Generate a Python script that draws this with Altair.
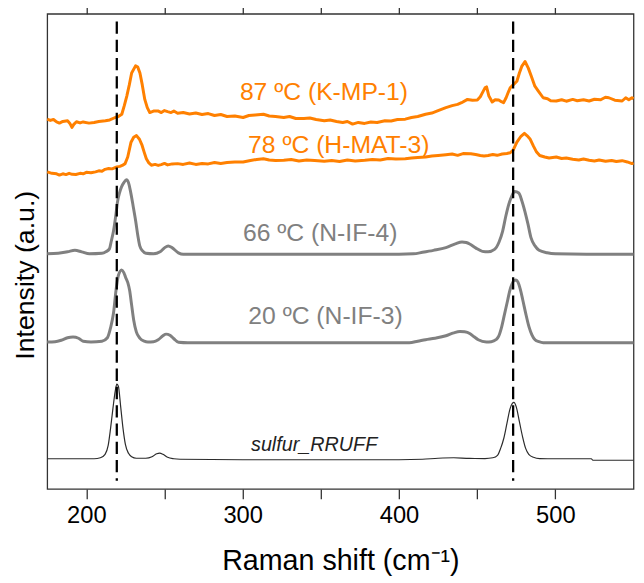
import altair as alt
import pandas as pd

# ---------------- data ----------------
# sulfur reference spectrum (RRUFF)
shift_s = [175, 190, 205, 209, 212, 214, 215.5, 217, 218.5, 219.5, 220.5, 222, 223.5, 225, 227,
           229, 232, 238, 242, 245, 247, 249, 252, 256, 260, 300, 350, 400, 415, 425, 435, 445,
           455, 460, 463, 465, 467, 469, 471, 472.5, 473.5, 475, 477, 479, 481, 483, 486, 490,
           500, 523, 524, 550]
int_s = [30.5, 30.5, 30.5, 31.5, 35, 44, 61, 81, 99, 106, 104, 83, 61, 45, 36,
         32.5, 31, 31, 32.5, 35.5, 36.2, 35, 32, 30.5, 30, 29.5, 29.5, 29.5, 30, 31, 31.5, 30.8,
         30.7, 31.5, 34, 41, 51, 66, 81, 86.5, 87.5, 83, 68, 53, 41, 35, 32, 30.7,
         30.5, 30.5, 29, 29]

# 20 ºC (N-IF-3)
shift_20 = [175, 180, 184, 188, 191.5, 195, 198, 203, 210, 213.5, 215.5, 217.4, 219, 220.5, 222.6,
            224, 225.1, 226.5, 227.7, 229, 230.3, 232, 234.2, 237, 239.4, 243, 246, 249, 251, 253.5,
            256, 259, 265, 300, 350, 400, 406.6, 412, 417, 423, 430, 435, 439, 442, 445.5,
            448, 450.7, 455.9, 459, 462, 463.7, 465.5, 467.6, 469.5, 470.9, 472.2, 473.5, 474.8,
            476.1, 477.6, 479.2, 481, 483.1, 485, 487, 489.5, 492.2, 510, 530, 550]
int_20 = [148.7, 149, 150.5, 153, 153.7, 152.5, 149.5, 148.7, 149.5, 153, 163, 178, 201, 216, 221.7,
          219, 214.3, 209, 201, 186, 171, 159, 152.7, 149.5, 148.7, 149, 151, 155, 156.7, 155.5,
          152, 148.5, 148, 148, 148, 148, 148, 149.5, 151, 152.5, 155, 158, 159.3, 159, 157,
          154, 151, 148.7, 149, 151, 154.3, 163, 177.7, 191, 201, 207, 211, 211.5,
          209.3, 202, 191, 178, 164.3, 156, 151, 149, 148, 148, 148, 148]

# 66 ºC (N-IF-4)
shift_66 = [175, 182, 188, 192.7, 197, 202, 210, 212.5, 214.8, 216, 217.4, 218.8, 220, 221.3, 222.6,
            224, 225.7, 227, 228.3, 230, 231.6, 233, 234.2, 236, 238.1, 243, 247.2, 250, 252.4, 255,
            258.9, 262, 300, 350, 400, 409.2, 415, 422, 430, 436, 440.3, 443, 445.5, 449, 453.3,
            457, 461.1, 464, 466.3, 468.3, 470.2, 472, 474, 476.6, 478.5, 480.5, 482.5, 484.4,
            487, 489.6, 494.8, 500, 520, 550]
int_66 = [238, 238.5, 240, 241.5, 240, 238, 238.5, 240, 243, 251, 261, 276, 291, 300, 306,
          310, 313, 310, 301, 286, 271, 256, 246, 241, 238.5, 238, 240, 244, 246, 244,
          239, 237.5, 237.5, 237.5, 237.5, 238, 239.5, 241.5, 244.3, 248, 250, 249.5, 247.7, 244, 240.5,
          240, 242.5, 250, 261, 276, 288, 296, 301, 299.5, 292, 281, 268, 254.3,
          246, 241.5, 239, 238, 237.5, 237.5]

# 78 ºC (H-MAT-3)
shift_78 = [175, 178, 181, 182.8, 185, 187, 189, 191, 193.3, 196,
            198, 200, 203, 205.9, 208, 210, 212, 214.3, 216.5, 219.5,
            221.5, 223, 224.8, 226.5, 228.6, 230.3, 232.1, 234, 235.7, 237,
            238.4, 240, 241.6, 244, 246, 247.9, 250, 252, 255, 258.4,
            262, 266, 270, 274, 278, 282, 286, 290, 295, 300.3,
            305, 309, 313.3, 317, 321, 326.3, 331, 336, 341, 346,
            352.2, 357, 362, 367, 372, 378.1, 383, 388, 393, 398,
            404, 408, 412, 417, 421, 425, 430, 434, 437.5, 441,
            445.9, 449, 452, 454.4, 457, 460, 462.8, 466, 469, 471.1,
            473, 475.4, 478, 480.2, 482, 483.8, 486, 488, 490, 493.2,
            496, 500.6, 504, 507, 511.1, 515, 518, 521.6, 525, 528,
            532.1, 536, 539, 542.7, 546, 549, 550]
int_78 = [321, 319.5, 319, 317.7, 319, 318.2, 319.5, 318.5, 318.3, 319.5,
          319, 320.5, 320, 321, 322, 321.5, 323.5, 324.3, 324, 326,
          326.5, 327.5, 329.3, 336, 351, 356, 357.7, 354, 347.7, 341,
          334.3, 330, 327.7, 328.5, 327.5, 328.3, 329.5, 328, 329, 329.3,
          328.5, 330, 328.5, 329.5, 329, 330.5, 329.5, 330.5, 331, 331,
          332.5, 333.5, 334.3, 333, 332.5, 332.7, 333.5, 332, 333, 332.5,
          331.7, 332.5, 331.5, 333, 332, 332.7, 333.5, 333, 334.5, 334,
          334.3, 335, 335.5, 336, 337, 337.5, 338.3, 339, 337.7, 339.5,
          339.3, 338.5, 337.5, 337, 337.5, 338.5, 337.7, 339, 339.5, 340.3,
          343, 351, 357, 360, 357.5, 354.3, 347, 341, 337.5, 336,
          335, 336, 334.5, 335, 333.7, 333, 334, 332.7, 332, 333,
          331.7, 332.5, 331.5, 332.3, 331, 329.3, 330]

# 87 ºC (K-MP-1)
shift_87 = [175, 177, 179, 181, 182.8, 185, 188, 189.5, 190.8, 192,
            193.7, 196, 198, 201.7, 205, 208, 212.2, 215, 218.5, 220.5,
            222.7, 224.3, 225.9, 227.5, 229, 231.5, 232.9, 234.3, 235.8, 237.4,
            239, 240.6, 243, 245.8, 248, 250, 252, 254.2, 256, 258.4,
            262, 266, 270, 274, 278, 282, 286, 290, 295, 300.3,
            304, 308, 313.3, 317, 321, 326.3, 330, 334, 339.2, 343,
            347, 352.2, 356, 360, 364, 367, 370.3, 374, 378, 382,
            386, 391, 395, 399, 404, 408, 412, 417, 421, 425,
            430, 434, 437.5, 440, 443.8, 447, 450.1, 452, 453.3, 455,
            456, 457.5, 459.6, 461.5, 463.8, 465.5, 466.9, 468.5, 470, 471.1,
            473, 475.4, 477, 478.5, 480.6, 482.7, 484.8, 486.9, 489, 492.2,
            495, 497, 500.6, 504, 507, 511.1, 514, 518, 521.6, 525,
            529, 532, 534.2, 538, 542.7, 545, 547, 549, 550]
int_87 = [374.3, 373, 374, 371.5, 370.3, 372, 372.7, 370, 366, 369,
          371.7, 370.5, 371.5, 370.3, 371, 372, 372.7, 373.5, 376, 377,
          379.3, 388, 397.7, 409, 421, 428.3, 427, 421, 409, 394.3,
          386, 381, 382.5, 382.7, 381, 383, 382, 381, 382.5, 380.3,
          381, 379.5, 380.5, 379, 380, 378, 379, 377, 377.5, 376,
          378, 378.5, 379.3, 377.5, 377, 376, 377, 375, 375, 375.5,
          374, 372.7, 373.5, 372, 371, 372, 369.3, 371, 370, 371.5,
          371, 372.7, 372.5, 374, 374.3, 376, 377, 379.3, 380.5, 383,
          386, 388, 389.3, 391, 394.3, 393.5, 393.7, 397, 401, 406,
          407, 397.7, 391.7, 394, 393.7, 392, 391, 396, 402, 406,
          409, 412.7, 421, 427.7, 432.7, 426, 417, 407.7, 403, 396,
          395, 393, 392.7, 394, 392.5, 394.3, 393, 394, 392.7, 394.5,
          394, 396.5, 396, 393.5, 392.7, 396, 394, 396, 395]

# reference peak positions (dashed lines)
ref_peaks = [219.5, 473]

# annotations
orange_labels = ["87 ºC (K-MP-1)", "78 ºC (H-MAT-3)"]
orange_label_x = [352, 361.5]
orange_label_y = [394, 339.6]
gray_labels = ["66 ºC (N-IF-4)", "20 ºC (N-IF-3)"]
gray_label_x = [349.6, 353]
gray_label_y = [251.3, 167]
ref_labels = ["sulfur_RRUFF"]
ref_label_x = [345.7]
ref_label_y = [38]

tick_values = [200, 250, 300, 350, 400, 450, 500]

# ---------------- build tables ----------------
def spectrum(xs, ys, name):
    return pd.DataFrame({"shift": xs, "intensity": ys, "sample": name})

orange_df = pd.concat([spectrum(shift_87, int_87, "87"), spectrum(shift_78, int_78, "78")])
gray_df = pd.concat([spectrum(shift_66, int_66, "66"), spectrum(shift_20, int_20, "20")])
sulfur_df = spectrum(shift_s, int_s, "sulfur")
orange_lab_df = pd.DataFrame({"shift": orange_label_x, "intensity": orange_label_y, "label": orange_labels})
gray_lab_df = pd.DataFrame({"shift": gray_label_x, "intensity": gray_label_y, "label": gray_labels})
ref_lab_df = pd.DataFrame({"shift": ref_label_x, "intensity": ref_label_y, "label": ref_labels})
peaks_df = pd.DataFrame({"shift": ref_peaks})

FONT = "Liberation Sans"
ORANGE = "#FF8000"
GRAY = "#808080"
FRAME = "#333333"

x_scale = alt.Scale(domain=[175, 550], nice=False, zero=False)
y_scale = alt.Scale(domain=[0, 481], nice=False, zero=False)

y_enc = alt.Y(
    "intensity:Q", scale=y_scale,
    axis=alt.Axis(title="Intensity (a.u.)", labels=False, ticks=False, domain=False, grid=False,
                  titleFont=FONT, titleFontSize=27, titleFontWeight="normal", titleColor="black",
                  titleAngle=270, titleAlign="left", titleBaseline="alphabetic",
                  titleX=-13.5, titleY=349.7),
)

x_bottom = alt.X(
    "shift:Q", scale=x_scale,
    axis=alt.Axis(orient="bottom", values=tick_values,
                  labelExpr="datum.value % 100 == 0 ? datum.label : ''",
                  labelOverlap=False, labelFlush=False,
                  title="Raman shift (cm⁻¹)", tickSize=10, domain=False, grid=False,
                  tickColor=FRAME, tickWidth=1.3,
                  labelFont=FONT, labelFontSize=24, labelColor="black", labelPadding=5,
                  titleFont=FONT, titleFontSize=29, titleFontWeight="normal", titleColor="black",
                  titleBaseline="alphabetic", titleY=82),
)
x_top = alt.X(
    "shift:Q", scale=x_scale,
    axis=alt.Axis(orient="top", values=tick_values, labels=False, title=None, tickSize=10,
                  domain=False, grid=False, tickColor=FRAME, tickWidth=1.3),
)
x_plain = alt.X("shift:Q", scale=x_scale, axis=None)

orange = alt.Chart(orange_df).mark_line(color=ORANGE, strokeWidth=3, strokeJoin="round").encode(
    x=x_bottom, y=y_enc, detail="sample:N")
gray = alt.Chart(gray_df).mark_line(color=GRAY, strokeWidth=3, interpolate="monotone",
                                    strokeJoin="round").encode(
    x=x_plain, y=y_enc, detail="sample:N")
sulfur = alt.Chart(sulfur_df).mark_line(color="#2b2b2b", strokeWidth=1.2, interpolate="monotone").encode(
    x=x_plain, y=y_enc)
rules = alt.Chart(peaks_df).mark_rule(color="black", strokeWidth=2.3, strokeDash=[12.5, 6]).encode(
    x=x_top, y=alt.value(7.7), y2=alt.value(472.7))

orange_text = alt.Chart(orange_lab_df).mark_text(
    color=ORANGE, font=FONT, fontSize=25, align="center", baseline="alphabetic").encode(
    x=x_plain, y=y_enc, text="label:N")
gray_text = alt.Chart(gray_lab_df).mark_text(
    color=GRAY, font=FONT, fontSize=25, align="center", baseline="alphabetic").encode(
    x=x_plain, y=y_enc, text="label:N")
ref_text = alt.Chart(ref_lab_df).mark_text(
    color="#222222", font=FONT, fontSize=20, fontStyle="italic", align="center",
    baseline="alphabetic").encode(
    x=x_plain, y=y_enc, text="label:N")

chart = alt.layer(
    orange, gray, sulfur, rules, orange_text, gray_text, ref_text
).resolve_axis(
    x="independent"
).properties(
    width=593.6, height=481,
    autosize=alt.AutoSizeParams(type="none"),
    padding={"left": 39.7, "top": 2.3, "right": 2.5, "bottom": 90},
).configure_view(
    stroke=FRAME, strokeWidth=1.3
)

chart.save("out.html", embed_options={"renderer": "svg", "actions": False})
